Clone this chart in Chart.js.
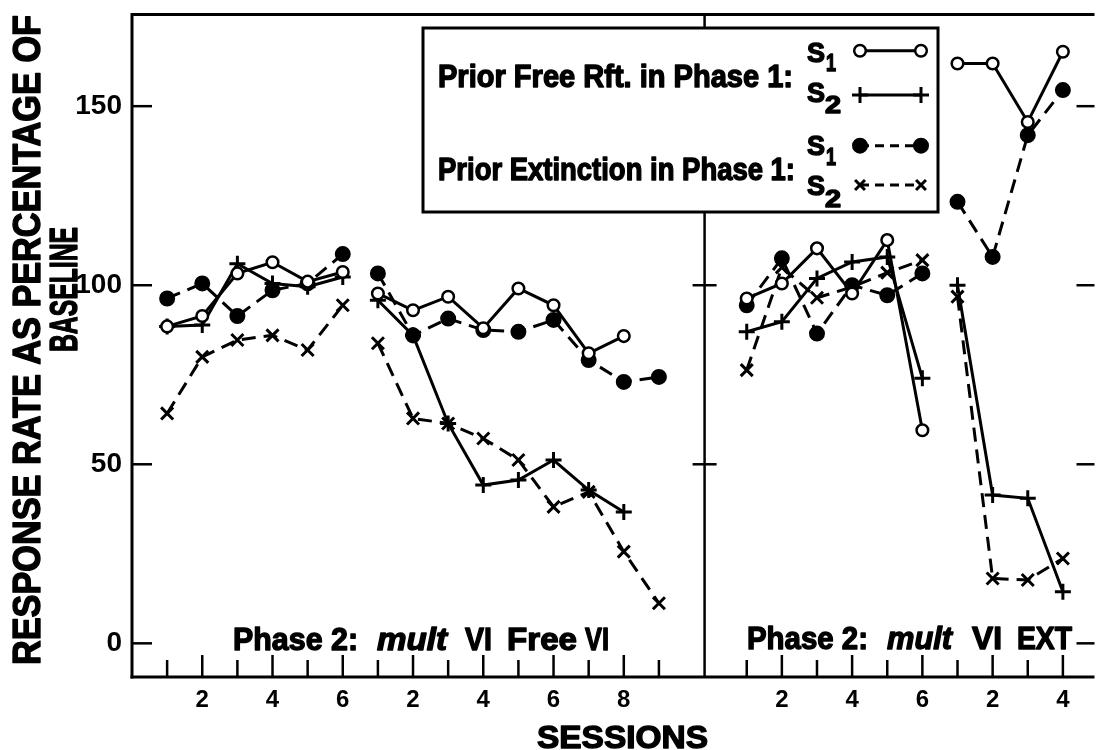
<!DOCTYPE html>
<html>
<head>
<meta charset="utf-8">
<script src="https://cdn.jsdelivr.net/npm/chart.js@4.4.0/dist/chart.umd.min.js"></script>
<style>
  html, body { margin: 0; padding: 0; background: #fff; }
  #wrap { width: 1106px; height: 750px; }
</style>
</head>
<body>
<div id="wrap"><canvas id="chart" width="1106" height="750"></canvas></div>
<script>
// Session runs along the x axis: left panel (mult VI Free VI) = runs 0,1 ; right panel (mult VI EXT) = runs 2,3
const runOffsets = [0, 6, 16.5, 22.5];
const runLengths = [6, 9, 6, 4];
const panelDivider = 16.3;

// Response rate as % of baseline, one inner array per run
const freeS1 = [
    [88.5, 91.4, 103.3, 106.4, 101, 103.7],
    [97.7, 93, 96.8, 88, 99.1, 94.4, 81, 85.8],
    [96.3, 100.5, 110.3, 97.7, 112.6, 59.5],
    [161.9, 161.9, 145.6, 165.2]
];
const freeS2 = [
    [88.5, 88.9, 106, 100.5, 99.6, 102.3],
    [95.8, 86, 61.4, 44.2, 45.6, 51.2, 42.8, 36.7],
    [87, 89.8, 101.9, 106.5, 107.9, 74],
    [100, 41.4, 40.5, 14.4]
];
const extS1 = [
    [96.3, 100.5, 91.4, 98.6, 100.5, 108.7],
    [103.3, 86, 90.7, 87.5, 87, 90.3, 79.1, 73, 74.4],
    [94.4, 107.5, 86.5, 100, 97.2, 103.3],
    [123.3, 107.9, 141.9, 154.5]
];
const extS2 = [
    [64.2, 80, 84.7, 86, 81.9, 94.4],
    [83.8, 62.8, 61.4, 57.2, 51.2, 38.1, 42.3, 25.6, 11.2],
    [76.3, 105, 96.5, 99.5, 103.5, 107],
    [96.8, 18.1, 17.7, 23.7]
];

const yTicks = [0, 50, 100, 150];
const xTickLabels = ["2", "4", "6", "2", "4", "6", "8", "2", "4", "6", "2", "4"];
const xTickRuns = [0, 0, 0, 1, 1, 1, 1, 2, 2, 2, 3, 3];

const FONT = '"Liberation Sans", Arial, sans-serif';

// turn the runs into one point list, with a null gap between runs
function toPoints(runs) {
    const pts = [];
    runs.forEach((vals, r) => {
        if (r > 0) pts.push({ x: runOffsets[r] + 0.5, y: null });
        vals.forEach((v, i) => pts.push({ x: runOffsets[r] + i + 1, y: v }));
    });
    return pts;
}

const seriesStyles = [
    { label: "Prior Free Rft. S1", data: freeS1, dash: [], pointStyle: "circle", radius: 5.8, fill: "#fff", bw: 2.5 },
    { label: "Prior Free Rft. S2", data: freeS2, dash: [], pointStyle: "cross", radius: 8, fill: "#000", bw: 3 },
    { label: "Prior Extinction S1", data: extS1, dash: [14, 8], pointStyle: "circle", radius: 7, fill: "#000", bw: 2 },
    { label: "Prior Extinction S2", data: extS2, dash: [14, 8], pointStyle: "crossRot", radius: 8.5, fill: "#000", bw: 3 }
];

const datasets = seriesStyles.map((s) => ({
    label: s.label,
    data: toPoints(s.data),
    borderColor: "#000",
    borderWidth: 3,
    borderDash: s.dash,
    spanGaps: false,
    tension: 0,
    pointStyle: s.pointStyle,
    pointRadius: s.radius,
    pointBackgroundColor: s.fill,
    pointBorderColor: "#000",
    pointBorderWidth: s.bw
}));

// draw text squeezed to a target width (the original lettering is condensed and heavy)
function fitText(ctx, text, x, y, font, width, rot) {
    ctx.save();
    ctx.font = font;
    const w = ctx.measureText(text).width;
    ctx.translate(x, y);
    if (rot) ctx.rotate(rot);
    ctx.scale(width / w, 1);
    ctx.textAlign = "left";
    ctx.textBaseline = "alphabetic";
    ctx.fillStyle = "#000";
    ctx.strokeStyle = "#000";
    ctx.lineWidth = 1.4;
    ctx.lineJoin = "round";
    ctx.fillText(text, 0, 0);
    ctx.strokeText(text, 0, 0);
    ctx.restore();
}

function seg(ctx, x1, y1, x2, y2) {
    ctx.beginPath();
    ctx.moveTo(x1, y1);
    ctx.lineTo(x2, y2);
    ctx.stroke();
}

const figurePlugin = {
    id: "figure",
    beforeDatasetsDraw(chart) {
        const { ctx, chartArea: a, scales: { x, y } } = chart;
        ctx.save();
        ctx.strokeStyle = "#000";
        ctx.fillStyle = "#000";
        ctx.lineWidth = 3;

        // frame (no right edge, the figure is cut there)
        ctx.beginPath();
        ctx.moveTo(a.left, a.bottom + 1.5);
        ctx.lineTo(a.left, a.top);
        ctx.lineTo(a.right, a.top);
        ctx.stroke();
        seg(ctx, a.left - 1.5, a.bottom, a.right, a.bottom);

        const dx = x.getPixelForValue(panelDivider);
        ctx.lineWidth = 2.5;
        seg(ctx, dx, a.top, dx, a.bottom);

        // inward y ticks
        yTicks.forEach((v) => {
            const py = y.getPixelForValue(v);
            seg(ctx, a.left, py, a.left + 20, py);
            seg(ctx, a.right - 18, py, a.right, py);
            if (v > 0) seg(ctx, dx - 12, py, dx + 12, py);
        });

        // inward x ticks, longer on even sessions
        runLengths.forEach((n, r) => {
            for (let s = 1; s <= n; s++) {
                const px = x.getPixelForValue(runOffsets[r] + s);
                seg(ctx, px, a.bottom, px, a.bottom - (s % 2 === 0 ? 22 : 17));
            }
        });

        // y axis title, two rotated lines
        fitText(ctx, "RESPONSE RATE AS PERCENTAGE OF", 40, 665, "bold 39px " + FONT, 650, -Math.PI / 2);
        fitText(ctx, "BASELINE", 77, 352, "bold 39px " + FONT, 125, -Math.PI / 2);

        // x axis title
        fitText(ctx, "SESSIONS", 537, 748, "bold 32px " + FONT, 171);

        // panel captions
        const bold = "bold 32px " + FONT;
        const ital = "italic bold 32px " + FONT;
        fitText(ctx, "Phase 2:", 233, 650, bold, 125);
        fitText(ctx, "mult", 377, 650, ital, 70);
        fitText(ctx, "VI", 465, 650, bold, 27);
        fitText(ctx, "Free", 507, 650, bold, 70);
        fitText(ctx, "VI", 585, 650, bold, 24);

        fitText(ctx, "Phase 2:", 747, 649, bold, 121);
        fitText(ctx, "mult", 887, 649, ital, 65);
        fitText(ctx, "VI", 972, 649, bold, 30);
        fitText(ctx, "EXT", 1017, 649, bold, 55);
        ctx.restore();
    },
    afterDatasetsDraw(chart) {
        const { ctx } = chart;
        ctx.save();
        ctx.fillStyle = "#fff";
        ctx.fillRect(423, 28, 515, 184);
        ctx.strokeStyle = "#000";
        ctx.lineWidth = 3;
        ctx.strokeRect(423, 28, 515, 184);

        const bold = "bold 31px " + FONT;
        fitText(ctx, "Prior Free Rft. in Phase 1:", 438, 87, bold, 355);
        fitText(ctx, "Prior Extinction in Phase 1:", 438, 180, bold, 357);

        const rows = [
            { sub: "1", sy: 61.5, suby: 70.5, ly: 50.7 },
            { sub: "2", sy: 101.5, suby: 113, ly: 95 },
            { sub: "1", sy: 155, suby: 165, ly: 145.7 },
            { sub: "2", sy: 195, suby: 206.5, ly: 185 }
        ];
        rows.forEach((row, i) => {
            fitText(ctx, "S", 807, row.sy, "bold 27px " + FONT, 18);
            fitText(ctx, row.sub, row.sub === "1" ? 826 : 825, row.suby, "bold 23px " + FONT, row.sub === "1" ? 10 : 16);

            const st = seriesStyles[i];
            const x1 = 860, x2 = 921;
            ctx.strokeStyle = "#000";
            ctx.lineWidth = 3;
            ctx.setLineDash(st.dash.length ? [9, 6] : []);
            seg(ctx, x1, row.ly, x2, row.ly);
            ctx.setLineDash([]);
            ctx.lineWidth = st.bw;
            const opts = { pointStyle: st.pointStyle, rotation: 0, radius: st.pointStyle === "crossRot" ? 7 : st.radius, borderWidth: st.bw };
            ctx.fillStyle = st.fill;
            Chart.helpers.drawPoint(ctx, opts, x1, row.ly);
            ctx.fillStyle = st.fill;
            Chart.helpers.drawPoint(ctx, opts, x2, row.ly);
        });
        ctx.restore();
    }
};

const chartCanvas = document.getElementById("chart").getContext("2d");

new Chart(chartCanvas, {
    type: "line",
    data: { datasets: datasets },
    options: {
        responsive: false,
        animation: false,
        layout: { padding: { top: 14.5, right: 0, left: 0, bottom: 0 } },
        plugins: {
            legend: { display: false },
            tooltip: { enabled: false }
        },
        scales: {
            x: {
                type: "linear",
                min: 0,
                max: 27.4,
                afterFit(scale) {
                    scale.height = 73;
                    scale.paddingLeft = 0;
                    scale.paddingRight = 0;
                },
                afterBuildTicks(scale) {
                    scale.ticks = xTickLabels.map((lab, i) => ({ value: runOffsets[xTickRuns[i]] + Number(lab) }));
                },
                ticks: {
                    autoSkip: false,
                    maxRotation: 0,
                    padding: 9,
                    color: "#000",
                    font: { family: FONT, size: 24, weight: "bold" },
                    callback: (value, index) => xTickLabels[index]
                },
                grid: { display: false, drawTicks: false },
                border: { display: false }
            },
            y: {
                min: -9.4,
                max: 175.6,
                afterFit(scale) {
                    scale.width = 132;
                    scale.paddingTop = 0;
                    scale.paddingBottom = 0;
                },
                afterBuildTicks(scale) {
                    scale.ticks = yTicks.map((v) => ({ value: v }));
                },
                ticks: {
                    padding: 10,
                    color: "#000",
                    font: { family: FONT, size: 28, weight: "bold" }
                },
                grid: { display: false, drawTicks: false },
                border: { display: false }
            }
        }
    },
    plugins: [figurePlugin]
});
</script>
</body>
</html>
